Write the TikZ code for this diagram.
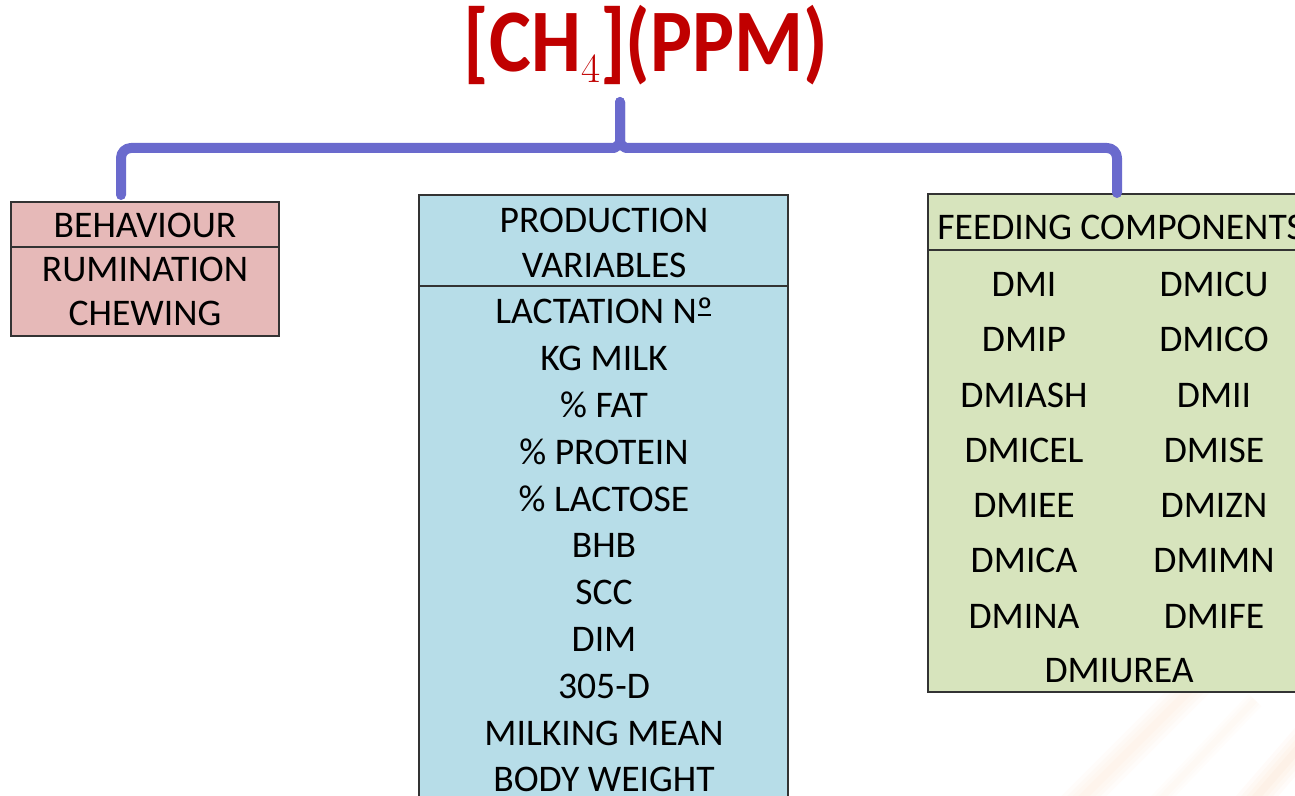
\documentclass[tikz,border=0pt]{standalone}
\usepackage{fontspec}
\setmainfont{Carlito}
\usetikzlibrary{positioning}

\definecolor{titlered}{HTML}{C00000}
\definecolor{bracecol}{HTML}{6A6ACD}
\definecolor{behfill}{HTML}{E6B9B8}
\definecolor{prodfill}{HTML}{B7DDE8}
\definecolor{feedfill}{HTML}{D7E4BD}
\definecolor{streak}{HTML}{F4A460}

\newcommand\ordnum{N\rlap{\hspace{0.03em}\rule[0.2em]{0.34em}{0.055em}}º}
\newcommand\tall[1]{\scalebox{1}[1.13]{#1}}

\tikzset{
  panel/.style={draw=black!80,line width=0.8pt,inner sep=0pt},
  item/.style={font=\fontsize{18.8}{22}\selectfont,inner sep=0pt,
    text height=11.8pt,text depth=0pt,anchor=center},
  brace/.style={draw=bracecol,line width=5pt,line cap=round,line join=round}
}

\begin{document}
\begin{tikzpicture}[x=0.5pt,y=-0.5pt]

\useasboundingbox (0,0) rectangle (1295,796);
\clip (0,0) rectangle (1295,796);

% ------------------------------------------------------------------
% Faint streaks of the slide background (bottom right)
% ------------------------------------------------------------------
\foreach \w in {4,8,12,16}
  \draw[streak,opacity=0.03,line width=\w pt] (1070,810) -- (1200,680);
\foreach \w in {3,6,9}
  \draw[streak,opacity=0.025,line width=\w pt] (1150,810) -- (1255,700);
\foreach \w in {4,8,12,16}
  \draw[streak,opacity=0.04,line width=\w pt] (1245,810) -- (1310,735);

% ------------------------------------------------------------------
% Title
% ------------------------------------------------------------------
\node[anchor=base,inner sep=0pt,text=titlered,
  font=\fontsize{39.5}{44}\selectfont\bfseries] (title) at (646,72)
  {\tall{[CH}\raisebox{-5.5pt}{\fontsize{21}{22}\selectfont$4$}\tall{](PPM)}};

% ------------------------------------------------------------------
% Boxes
% ------------------------------------------------------------------
\node[panel,fill=behfill,minimum width=134pt,minimum height=67pt]
  (beh) at (145,269) {};
\node[panel,fill=prodfill,minimum width=184.5pt,minimum height=315pt]
  (prod) at (603.5,510) {};
\node[panel,fill=feedfill,minimum width=192pt,minimum height=249pt]
  (feed) at (1120,443) {};

% header dividers
\draw[black!80,line width=0.8pt] (11,247) -- (279,247);
\draw[black!80,line width=0.8pt] (419,286) -- (788,286);
\draw[black!80,line width=0.8pt] (928,250) -- (1312,250);

% ------------------------------------------------------------------
% Brace from the title down to the three boxes
% ------------------------------------------------------------------
\coordinate (tip) at (620,102);
\coordinate (legL) at (121,195);
\coordinate (legR) at (1117,193);

\draw[brace,rounded corners=5pt] (legL) -- (121,148) -- (604,148)
  .. controls (614,148) and (620,145) .. (620,132) -- (tip);
\draw[brace,rounded corners=5pt] (legR) -- (1117,148) -- (636,148)
  .. controls (626,148) and (620,145) .. (620,132) -- (tip);

% ------------------------------------------------------------------
% Behaviour
% ------------------------------------------------------------------
\node[item] (b1) at (145,226) {BEHAVIOUR};
\node[item] (b2) at (145,270) {RUMINATION};
\node[item] (b3) at (145,314) {CHEWING};

% ------------------------------------------------------------------
% Production variables
% ------------------------------------------------------------------
\node[item] (p1) at (604,221) {PRODUCTION};
\node[item] (p2) at (604,266) {VARIABLES};
\foreach \txt [count=\i] in {LACTATION \ordnum,KG MILK,\% FAT,\% PROTEIN,
    \% LACTOSE,BHB,SCC,DIM,305-D,MILKING MEAN,BODY WEIGHT}
  \node[item] (pv\i) at (604,{312+46.8*(\i-1)}) {\txt};

% ------------------------------------------------------------------
% Feeding components
% ------------------------------------------------------------------
\node[item,anchor=west] (f0) at (937,228) {FEEDING COMPONENTS};
\foreach \a/\b [count=\i] in {DMI/DMICU,DMIP/DMICO,DMIASH/DMII,
    DMICEL/DMISE,DMIEE/DMIZN,DMICA/DMIMN,DMINA/DMIFE} {
  \node[item] (fl\i) at (1024,{285+55.2*(\i-1)}) {\a};
  \node[item] (fr\i) at (1214,{285+55.2*(\i-1)}) {\b};
}
\node[item] (f15) at (1119,671) {DMIUREA};

\end{tikzpicture}
\end{document}
